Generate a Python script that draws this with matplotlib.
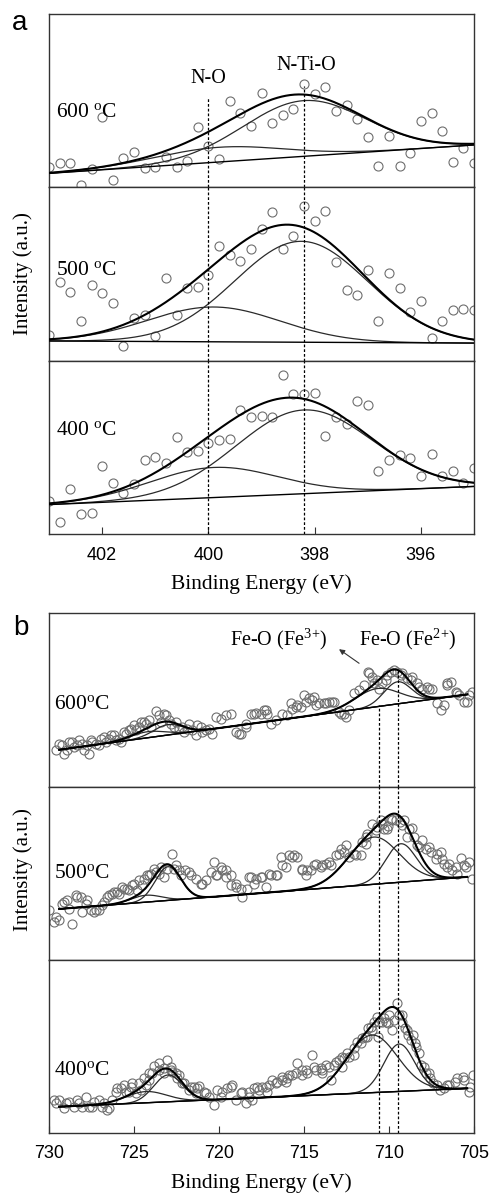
import numpy as np
import matplotlib.pyplot as plt

plt.rcParams['font.family'] = ['Liberation Serif', 'DejaVu Serif']
plt.rcParams['mathtext.fontset'] = 'custom'
plt.rcParams['mathtext.rm'] = 'Liberation Serif'

# ---------------- panel a : N 1s ----------------
a_energy = [403.0, 402.8, 402.6, 402.4, 402.2, 402.0, 401.8, 401.6, 401.4, 401.2,
            401.0, 400.8, 400.6, 400.4, 400.2, 400.0, 399.8, 399.6, 399.4, 399.2,
            399.0, 398.8, 398.6, 398.4, 398.2, 398.0, 397.8, 397.6, 397.4, 397.2,
            397.0, 396.8, 396.6, 396.4, 396.2, 396.0, 395.8, 395.6, 395.4, 395.2,
            395.0]
a600_counts = [11.8, 13.7, 13.7, 1.3, 10.4, 40.7, 4.0, 16.6, 20.0, 10.8,
               11.4, 17.5, 11.4, 15.2, 34.5, 23.9, 16.2, 49.5, 43.0, 35.1,
               54.3, 36.8, 41.4, 44.9, 59.5, 53.8, 58.0, 44.1, 47.6, 39.3,
               28.7, 11.9, 29.7, 11.9, 19.5, 38.3, 42.6, 32.6, 14.6, 22.5,
               13.7]
a500_counts = [14.8, 45.2, 39.7, 22.8, 43.5, 39.1, 33.5, 8.4, 24.9, 26.2,
               14.2, 47.7, 26.2, 42.0, 42.5, 49.2, 66.1, 60.7, 57.3, 64.2,
               75.9, 85.6, 64.2, 71.6, 89.3, 80.5, 86.0, 56.7, 41.0, 38.1,
               52.1, 22.8, 50.6, 42.1, 28.2, 34.3, 13.2, 22.8, 29.5, 29.9,
               29.5]
a400_counts = [19.1, 7.1, 25.8, 11.4, 12.3, 39.3, 29.7, 23.5, 29.1, 42.6,
               44.5, 41.2, 56.3, 47.6, 48.0, 52.4, 54.3, 54.7, 71.7, 67.4,
               68.4, 67.4, 91.9, 80.7, 80.7, 81.3, 56.8, 67.4, 63.6, 76.9,
               74.4, 36.4, 42.6, 45.5, 44.1, 33.5, 46.1, 33.5, 36.4, 29.5,
               38.3]
# fit: linear background (left, right) and peaks (center, height, sigma)
a_range = (403.0, 395.0)
a600_bg = (7.9, 24.3)
a600_peaks = [(399.8, 8.5, 1.2), (398.2, 32.2, 1.15)]
a500_bg = (11.5, 10.3)
a500_peaks = [(399.9, 20.0, 1.25), (398.25, 58.0, 1.25)]
a400_bg = (17.0, 27.5)
a400_peaks = [(399.9, 17.4, 1.2), (398.2, 48.4, 1.28)]
a_marks = [400.0, 398.2]
a_mark_top = [51.8, 58.6]
a_ticks = [402, 400, 398, 396]

# ---------------- panel b : Fe 2p ----------------
b600_points = [
    (729.61, 21.0), (729.41, 24.9), (729.22, 23.9), (729.12, 19.1), (728.92, 21.0),
    (728.82, 25.8), (728.63, 25.8), (728.53, 22.9), (728.33, 23.9), (728.24, 26.8),
    (728.04, 24.9), (727.94, 21.0), (727.75, 23.9), (727.65, 19.1), (727.55, 26.8),
    (727.45, 25.8), (727.25, 24.9), (727.06, 23.9), (726.96, 27.7), (726.76, 28.7),
    (726.67, 25.8), (726.47, 27.7), (726.37, 29.7), (726.18, 29.7), (726.08, 26.8),
    (725.88, 27.7), (725.78, 25.8), (725.59, 31.6), (725.49, 30.6), (725.29, 32.6),
    (725.20, 33.5), (725.00, 35.5), (724.90, 32.6), (724.71, 34.5), (724.61, 37.4),
    (724.41, 37.4), (724.31, 36.4), (724.12, 38.3), (724.02, 34.5), (723.73, 43.7),
    (723.53, 41.2), (723.43, 37.4), (723.24, 42.2), (723.14, 41.2), (722.94, 38.3),
    (722.84, 36.4), (722.65, 34.5), (722.55, 37.4), (722.35, 33.5), (722.16, 34.5),
    (722.06, 31.6), (721.86, 33.5), (721.76, 36.4), (721.57, 32.6), (721.37, 29.7),
    (721.27, 35.5), (721.08, 34.5), (720.98, 31.6), (720.78, 32.6), (720.59, 33.5),
    (720.39, 30.6), (720.20, 40.3), (719.90, 39.3), (719.61, 41.2), (719.31, 42.2),
    (719.02, 31.6), (718.82, 30.6), (718.73, 30.6), (718.43, 36.4), (718.43, 34.5),
    (718.14, 42.2), (717.94, 42.2), (717.84, 42.6), (717.55, 42.2), (717.35, 44.1),
    (717.25, 44.1), (717.16, 42.2), (716.96, 36.4), (716.67, 38.3), (716.27, 42.2),
    (715.98, 41.2), (715.78, 48.0), (715.69, 45.1), (715.49, 46.1), (715.39, 47.0),
    (715.20, 46.1), (715.00, 52.8), (714.90, 48.9), (714.71, 50.9), (714.51, 49.9),
    (714.41, 51.8), (714.31, 47.0), (714.12, 48.0), (713.82, 48.0), (713.73, 48.0),
    (713.53, 48.9), (713.33, 48.9), (713.24, 48.9), (712.94, 43.2), (712.84, 42.2),
    (712.65, 42.2), (712.55, 40.3), (712.35, 44.1), (712.06, 53.8), (711.76, 55.7),
    (711.47, 58.6), (711.22, 66.3), (711.18, 65.3), (710.98, 63.4), (710.88, 59.5),
    (710.69, 61.5), (710.59, 56.6), (710.39, 59.5), (710.20, 61.5), (710.10, 64.4),
    (709.90, 66.3), (709.71, 67.2), (709.51, 66.3), (709.31, 64.4), (709.22, 65.3),
    (708.92, 62.4), (708.73, 61.5), (708.63, 63.4), (708.33, 59.5), (708.24, 57.6),
    (708.04, 56.6), (707.75, 57.6), (707.65, 56.6), (707.45, 56.6), (707.16, 48.0),
    (706.96, 44.1), (706.76, 47.0), (706.57, 59.5), (706.57, 58.6), (706.37, 60.5),
    (706.08, 54.7), (705.98, 53.8), (705.88, 52.8), (705.59, 48.9), (705.39, 48.9),
    (705.29, 52.8), (705.10, 54.7),
]
b500_points = [
    (730.00, 29.1), (729.71, 22.0), (729.61, 24.9), (729.41, 22.9), (729.22, 32.6),
    (729.12, 33.5), (728.92, 34.5), (728.82, 29.7), (728.63, 21.0), (728.43, 37.4),
    (728.33, 36.4), (728.14, 36.4), (728.04, 27.7), (727.84, 32.6), (727.75, 34.5),
    (727.55, 28.7), (727.35, 27.7), (727.25, 28.7), (727.06, 28.7), (726.86, 31.6),
    (726.76, 33.5), (726.57, 36.4), (726.47, 37.4), (726.27, 38.3), (726.18, 39.3),
    (725.98, 39.3), (725.88, 38.3), (725.69, 42.2), (725.59, 41.2), (725.39, 41.2),
    (725.29, 40.3), (725.10, 43.2), (725.00, 44.1), (724.80, 40.3), (724.71, 46.1),
    (724.51, 43.2), (724.41, 47.0), (724.22, 48.9), (724.12, 48.9), (724.02, 49.9),
    (723.82, 52.8), (723.73, 50.9), (723.53, 49.9), (723.43, 53.8), (723.24, 48.0),
    (723.04, 52.8), (722.78, 61.5), (722.65, 52.8), (722.55, 54.7), (722.35, 51.8),
    (722.25, 48.9), (722.00, 51.8), (721.76, 50.9), (721.67, 48.9), (721.37, 47.0),
    (721.08, 44.1), (720.98, 44.1), (720.78, 46.1), (720.49, 50.9), (720.29, 56.6),
    (720.20, 48.9), (720.10, 48.9), (719.90, 53.8), (719.80, 51.8), (719.61, 48.0),
    (719.61, 51.8), (719.31, 43.2), (719.31, 48.9), (719.02, 42.2), (719.02, 44.1),
    (718.73, 41.2), (718.63, 36.4), (718.33, 41.2), (718.24, 48.0), (718.14, 48.0),
    (717.94, 44.1), (717.84, 47.0), (717.55, 48.0), (717.45, 48.0), (717.25, 42.2),
    (717.06, 49.9), (716.96, 48.9), (716.67, 48.9), (716.57, 48.9), (716.37, 59.5),
    (716.27, 54.7), (716.08, 53.8), (715.88, 60.5), (715.69, 59.5), (715.59, 60.5),
    (715.39, 59.5), (715.10, 51.8), (715.10, 52.8), (714.90, 48.9), (714.80, 51.8),
    (714.61, 51.8), (714.41, 54.7), (714.31, 55.7), (714.02, 53.8), (713.92, 54.7),
    (713.73, 55.7), (713.53, 56.6), (713.43, 54.7), (713.14, 60.5), (712.94, 61.5),
    (712.84, 64.4), (712.65, 62.4), (712.55, 66.3), (712.35, 59.5), (712.06, 61.5),
    (711.96, 60.5), (711.67, 60.5), (711.57, 68.2), (711.37, 67.2), (711.37, 71.1),
    (711.27, 73.0), (711.02, 78.8), (710.78, 75.0), (710.69, 76.9), (710.49, 80.7),
    (710.39, 78.8), (710.29, 75.9), (710.10, 75.9), (710.04, 77.3), (709.90, 81.7),
    (709.80, 80.7), (709.61, 80.7), (709.37, 79.8), (709.22, 77.8), (709.12, 80.7),
    (708.92, 71.1), (708.82, 75.9), (708.63, 76.5), (708.53, 71.1), (708.33, 66.3),
    (708.24, 65.3), (708.04, 69.6), (707.84, 64.4), (707.65, 65.3), (707.55, 62.4),
    (707.25, 58.6), (707.16, 61.5), (706.96, 62.4), (706.86, 58.6), (706.76, 55.7),
    (706.57, 53.8), (706.47, 55.7), (706.27, 51.8), (706.08, 53.8), (705.98, 49.9),
    (705.78, 59.2), (705.59, 54.7), (705.49, 53.8), (705.29, 56.6), (705.10, 47.0),
]
b400_points = [
    (729.71, 19.1), (729.60, 17.1), (729.41, 19.1), (729.12, 14.3), (729.02, 17.1),
    (728.82, 18.1), (728.53, 15.2), (728.33, 19.1), (728.24, 17.1), (728.04, 15.2),
    (727.84, 21.0), (727.65, 15.2), (727.45, 15.2), (727.35, 18.1), (727.06, 19.1),
    (726.86, 15.2), (726.76, 17.1), (726.57, 13.3), (726.47, 14.3), (726.27, 19.1),
    (726.08, 23.9), (725.98, 25.8), (725.78, 25.8), (725.59, 27.7), (725.49, 23.9),
    (725.29, 23.9), (725.20, 26.8), (725.10, 28.7), (724.90, 22.9), (724.71, 28.7),
    (724.61, 24.9), (724.41, 31.6), (724.31, 27.7), (724.12, 30.6), (724.12, 34.5),
    (723.92, 34.5), (723.82, 38.7), (723.53, 36.4), (723.53, 40.3), (723.24, 37.4),
    (723.24, 34.5), (723.04, 42.2), (722.84, 38.3), (722.84, 36.4), (722.75, 35.5),
    (722.55, 34.5), (722.45, 31.6), (722.35, 33.5), (722.16, 28.7), (722.06, 28.7),
    (721.76, 24.9), (721.67, 26.8), (721.47, 26.8), (721.37, 22.9), (721.27, 25.8),
    (721.18, 27.2), (720.88, 23.9), (720.78, 22.9), (720.59, 21.0), (720.29, 16.2),
    (720.10, 24.9), (719.90, 21.0), (719.80, 23.9), (719.51, 25.8), (719.31, 26.8),
    (719.22, 27.7), (719.02, 19.1), (718.73, 22.9), (718.63, 23.9), (718.43, 17.1),
    (718.24, 21.0), (718.24, 23.9), (718.04, 19.1), (717.94, 25.8), (717.75, 26.8),
    (717.65, 24.9), (717.45, 26.8), (717.25, 26.8), (717.16, 23.9), (717.06, 27.7),
    (716.86, 30.6), (716.67, 28.7), (716.57, 29.7), (716.27, 30.6), (716.27, 32.6),
    (716.08, 29.7), (715.98, 31.6), (715.88, 33.5), (715.69, 33.5), (715.49, 34.5),
    (715.39, 40.3), (715.10, 33.5), (715.10, 36.4), (714.90, 36.4), (714.80, 34.5),
    (714.51, 45.1), (714.41, 38.3), (714.31, 36.4), (714.02, 37.4), (713.92, 34.5),
    (713.92, 36.4), (713.73, 39.3), (713.53, 38.3), (713.43, 30.6), (713.24, 39.3),
    (713.14, 41.2), (712.94, 42.2), (712.75, 38.3), (712.75, 44.1), (712.65, 43.2),
    (712.45, 46.1), (712.35, 44.1), (712.06, 48.9), (712.06, 45.1), (711.86, 52.8),
    (711.67, 51.8), (711.57, 54.7), (711.41, 55.7), (711.27, 55.7), (711.22, 60.5),
    (711.08, 61.5), (710.98, 59.5), (710.88, 64.4), (710.73, 67.2), (710.63, 55.7),
    (710.59, 64.4), (710.43, 64.4), (710.29, 66.3), (710.20, 64.4), (710.04, 63.4),
    (710.00, 68.2), (709.80, 59.5), (709.71, 65.3), (709.55, 75.0), (709.41, 68.2),
    (709.25, 68.2), (709.22, 64.4), (709.06, 60.5), (708.92, 59.5), (708.86, 56.6),
    (708.73, 53.8), (708.57, 56.6), (708.47, 51.8), (708.43, 49.9), (708.24, 46.1),
    (708.14, 39.3), (707.94, 38.3), (707.82, 34.5), (707.65, 34.5), (707.59, 31.6),
    (707.39, 28.7), (707.16, 27.7), (707.00, 24.9), (706.76, 25.8), (706.61, 27.7),
    (706.47, 27.7), (706.12, 29.7), (705.98, 31.6), (705.63, 32.6), (705.59, 30.6),
    (705.29, 23.9), (705.24, 26.8), (705.04, 33.5),
]
b_range = (729.4, 705.4)
b600_bg = (21.4, 53.2)
b600_peaks = [(724.2, 3.5, 1.0), (723.0, 6.0, 0.85), (710.7, 10.4, 1.3), (709.5, 12.7, 0.8)]
b500_bg = (29.5, 48.0)
b500_peaks = [(724.3, 4.0, 0.9), (723.0, 19.5, 0.75), (710.9, 27.3, 1.5), (709.3, 22.2, 0.9)]
b400_bg = (15.2, 25.8)
b400_peaks = [(724.3, 6.5, 1.2), (723.0, 15.5, 0.85), (711.0, 33.3, 1.5), (709.4, 27.4, 0.9)]
b_marks = [710.6, 709.5]
b_mark_top = [47.0, 68.0]
b_ticks = [730, 725, 720, 715, 710, 705]

SPINE = '#333333'
DOT = '#6e6e6e'


def gauss(x, c, h, s):
    return h * np.exp(-(x - c) ** 2 / (2 * s * s))


def draw_fit(ax, xr, bg, peaks):
    x = np.linspace(xr[0], xr[1], 600)
    base = bg[0] + (bg[1] - bg[0]) * (x - xr[0]) / (xr[1] - xr[0])
    total = base.copy()
    for c, h, s in peaks:
        g = gauss(x, c, h, s)
        ax.plot(x, base + g, color='#2a2a2a', lw=0.9, zorder=3)
        total += g
    ax.plot(x, base, color='k', lw=1.0, zorder=3)
    ax.plot(x, total, color='k', lw=1.5, zorder=4)


def setup(ax, xlim, ticks=None):
    ax.set_xlim(*xlim)
    ax.set_ylim(0, 100)
    ax.set_yticks([])
    for sp in ax.spines.values():
        sp.set_color(SPINE)
        sp.set_linewidth(1.0)
    if ticks is None:
        ax.set_xticks([])
    else:
        ax.set_xticks(ticks)
        ax.tick_params(axis='x', direction='in', length=5, width=0.8,
                       color=SPINE, pad=9, labelsize=13,
                       labelfontfamily='Liberation Sans')


fig = plt.figure(figsize=(4.9, 11.93), dpi=100)
L, W = 49 / 490, 425 / 490
H = 1193.0


def rect(top, bottom):
    return [L, 1 - bottom / H, W, (bottom - top) / H]


# ---- panel a
a_axes = [fig.add_axes(rect(14, 187)), fig.add_axes(rect(187, 361)),
          fig.add_axes(rect(361, 534))]
a_counts = [a600_counts, a500_counts, a400_counts]
a_fit = [(a600_bg, a600_peaks), (a500_bg, a500_peaks), (a400_bg, a400_peaks)]
a_labels = ['600 $\\mathregular{^o}$C', '500 $\\mathregular{^o}$C', '400 $\\mathregular{^o}$C']
a_label_y = [0.43, 0.52, 0.60]
for i, ax in enumerate(a_axes):
    setup(ax, (403, 395), a_ticks if i == 2 else None)
    ax.plot(a_energy, a_counts[i], 'o', mfc='none', mec=DOT, mew=0.8, ms=6.5, zorder=2)
    draw_fit(ax, a_range, *a_fit[i])
    for xm, top in zip(a_marks, a_mark_top):
        ax.axvline(xm, ymin=0, ymax=(top / 100 if i == 0 else 1),
                   color='k', lw=0.9, ls=(0, (2.2, 1.6)), zorder=5)
    ax.text(0.016, a_label_y[i], a_labels[i], transform=ax.transAxes,
            ha='left', va='center', fontsize=15.5)
a_axes[0].text(400.0, 62.5, 'N-O', ha='center', va='center', fontsize=14.5)
a_axes[0].text(398.16, 70.5, 'N-Ti-O', ha='center', va='center', fontsize=14.5)
a_axes[2].set_xlabel('Binding Energy (eV)', fontsize=15.5, labelpad=8)

# ---- panel b
b_axes = [fig.add_axes(rect(613, 787)), fig.add_axes(rect(787, 960)),
          fig.add_axes(rect(960, 1133))]
b_points = [b600_points, b500_points, b400_points]
b_fit = [(b600_bg, b600_peaks), (b500_bg, b500_peaks), (b400_bg, b400_peaks)]
b_labels = ['600$\\mathregular{^o}$C', '500$\\mathregular{^o}$C', '400$\\mathregular{^o}$C']
b_label_y = [0.476, 0.50, 0.364]
for i, ax in enumerate(b_axes):
    setup(ax, (730, 705), b_ticks if i == 2 else None)
    ex, ey = np.array(b_points[i]).T
    ax.plot(ex, ey, 'o', mfc='none', mec=DOT, mew=0.8, ms=6.5, zorder=2)
    draw_fit(ax, b_range, *b_fit[i])
    for xm, top in zip(b_marks, b_mark_top):
        ax.axvline(xm, ymin=0, ymax=(top / 100 if i == 0 else 1),
                   color='k', lw=0.9, ls=(0, (2.2, 1.6)), zorder=5)
    ax.text(0.012, b_label_y[i], b_labels[i], transform=ax.transAxes,
            ha='left', va='center', fontsize=15.5)
b_axes[0].text(716.47, 84.6, 'Fe-O (Fe$\\mathregular{^{3}}$$\\mathregular{^{+}}$)',
               ha='center', va='center', fontsize=14.5)
b_axes[0].text(708.92, 84.6, 'Fe-O (Fe$\\mathregular{^{2}}$$\\mathregular{^{+}}$)',
               ha='center', va='center', fontsize=14.5)
b_axes[0].annotate('', xy=(712.94, 79.2), xytext=(711.76, 71.1),
                   arrowprops=dict(arrowstyle='-|>', color='#333333', lw=0.8,
                                   mutation_scale=8, shrinkA=0, shrinkB=0))
b_axes[2].set_xlabel('Binding Energy (eV)', fontsize=15.5, labelpad=8)

# panel letters and y labels
fig.text(19.5 / 490, 1 - 23 / H, 'a', ha='center', va='center', fontsize=20,
         family='Liberation Sans')
fig.text(20.5 / 490, 1 - 628 / H, 'b', ha='center', va='center', fontsize=20,
         family='Liberation Sans')
fig.text(23 / 490, 1 - 274 / H, 'Intensity (a.u.)', rotation=90, ha='center',
         va='center', fontsize=15)
fig.text(23 / 490, 1 - 870 / H, 'Intensity (a.u.)', rotation=90, ha='center',
         va='center', fontsize=15)

fig.savefig('out.png', dpi=100)
